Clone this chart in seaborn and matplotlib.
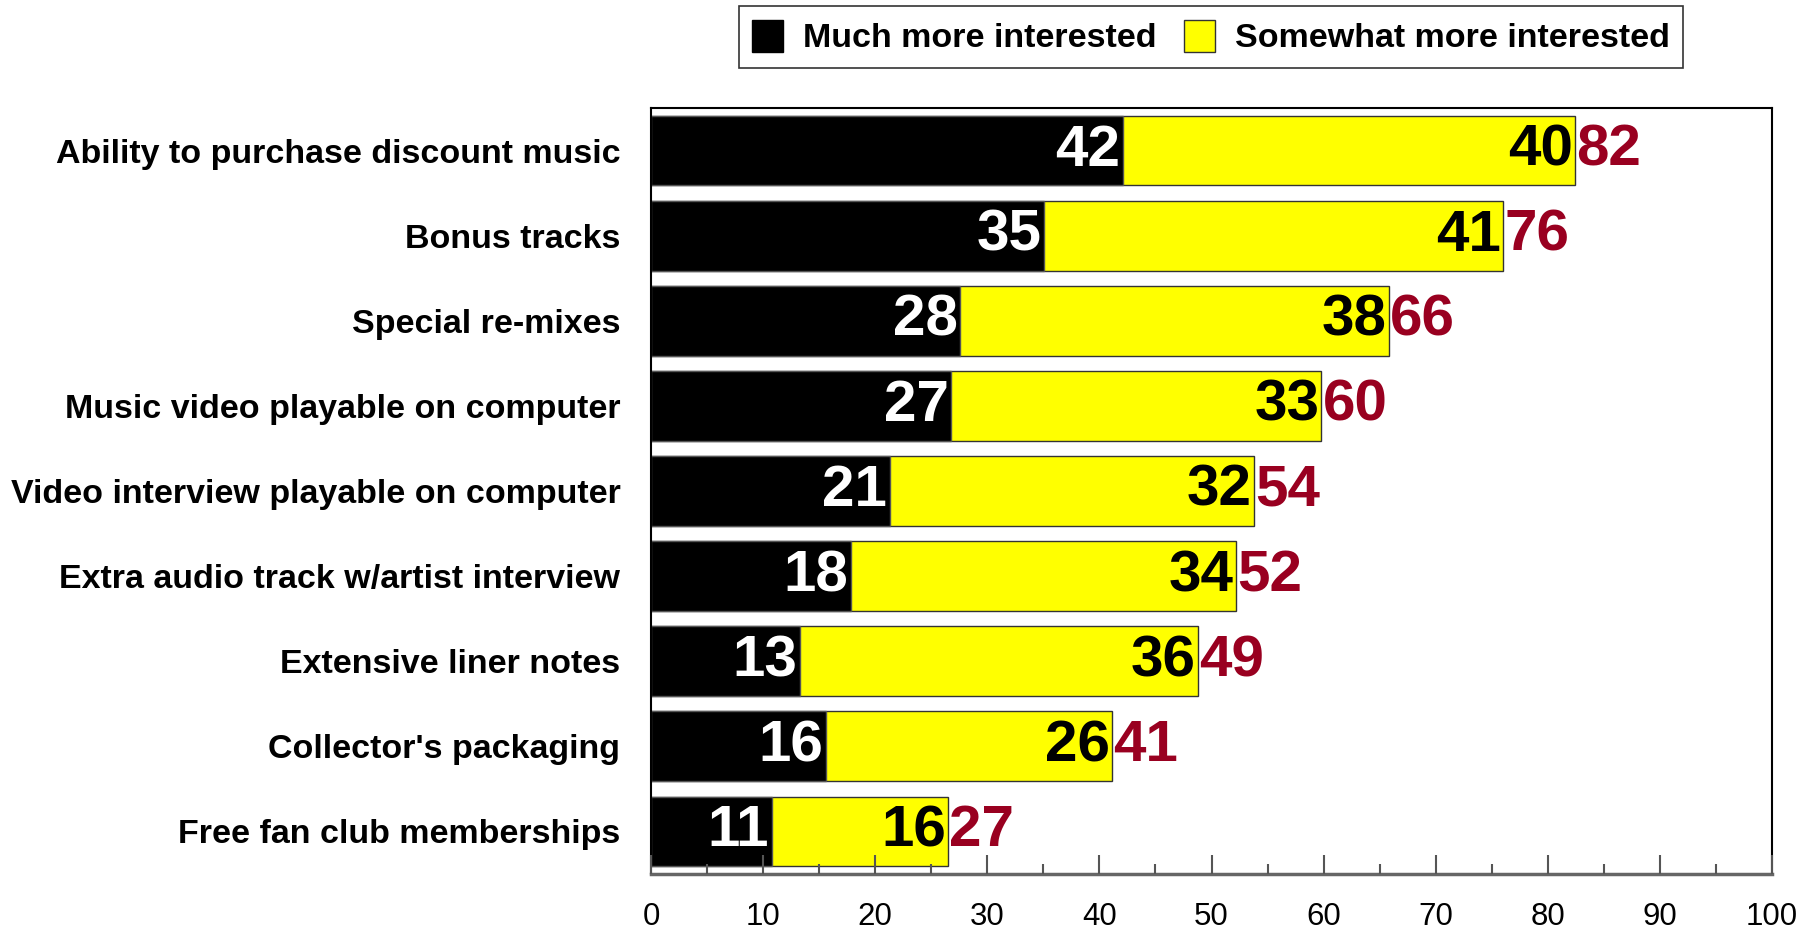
import numpy as np
import pandas as pd
import matplotlib
matplotlib.use("Agg")
import matplotlib.pyplot as plt
import seaborn as sns
from matplotlib.patches import Patch
from matplotlib.ticker import MultipleLocator

# datos
categories = [
    "Ability to purchase discount music",
    "Bonus tracks",
    "Special re-mixes",
    "Music video playable on computer",
    "Video interview playable on computer",
    "Extra audio track w/artist interview",
    "Extensive liner notes",
    "Collector's packaging",
    "Free fan club memberships",
]
much = [42.1, 35.1, 27.6, 26.8, 21.3, 17.8, 13.3, 15.6, 10.8]
somewhat = [40.3, 40.9, 38.2, 33.0, 32.5, 34.4, 35.5, 25.5, 15.7]
much_labels = [42, 35, 28, 27, 21, 18, 13, 16, 11]
somewhat_labels = [40, 41, 38, 33, 32, 34, 36, 26, 16]
total_labels = [82, 76, 66, 60, 54, 52, 49, 41, 27]
x_ticks = [0, 10, 20, 30, 40, 50, 60, 70, 80, 90, 100]

df = pd.DataFrame({"cat": categories, "much": much, "somewhat": somewhat})
df["total"] = df["much"] + df["somewhat"]

sns.set_style("white")
plt.rcParams["font.family"] = ["Liberation Sans", "DejaVu Sans"]
plt.rcParams["text.color"] = "black"
plt.rcParams["xtick.labelcolor"] = "black"
plt.rcParams["ytick.labelcolor"] = "black"

fig = plt.figure(figsize=(18.12, 9.39), dpi=100)
ax = fig.add_axes([651 / 1812, 1 - 874 / 939, (1772 - 651) / 1812, (874 - 108) / 939])

# barras apiladas: total amarillo y encima la parte negra
sns.barplot(data=df, x="total", y="cat", orient="h", color="#FFFF00", saturation=1,
            edgecolor="#333333", linewidth=1, width=0.82, ax=ax)
sns.barplot(data=df, x="much", y="cat", orient="h", color="black", saturation=1,
            edgecolor="#555555", linewidth=1, width=0.82, ax=ax)

ax.set_xlim(0, 100)
ax.set_ylim(8.5, -0.5)
ax.set_xlabel("")
ax.set_ylabel("")

# etiquetas de valores
fs_val = 42
for i, row in df.iterrows():
    ax.annotate(str(much_labels[i]), (row["much"], i), xytext=(-2, 0), textcoords="offset points",
                ha="right", va="center", color="white", fontsize=fs_val, fontweight="bold")
    ax.annotate(str(somewhat_labels[i]), (row["total"], i), xytext=(-1.5, 0), textcoords="offset points",
                ha="right", va="center", color="black", fontsize=fs_val, fontweight="bold")
    ax.annotate(str(total_labels[i]), (row["total"], i), xytext=(1, 0), textcoords="offset points",
                ha="left", va="center", color="#990020", fontsize=fs_val, fontweight="bold")

# ejes
ax.set_xticks(x_ticks)
ax.set_xticklabels([str(t) for t in x_ticks], fontsize=22.5, color="black")
ax.xaxis.set_minor_locator(MultipleLocator(5))
ax.tick_params(axis="x", which="major", direction="in", length=14, width=1.5, color="#555555", pad=20, bottom=True)
ax.tick_params(axis="x", which="minor", direction="in", length=7, width=1.5, color="#555555", bottom=True)
ax.tick_params(axis="y", length=0, pad=22)
for lab in ax.get_yticklabels():
    lab.set_fontsize(24.5)
    lab.set_fontweight("bold")
    lab.set_color("black")
ax.set_axisbelow(False)

for side in ["top", "right", "left"]:
    ax.spines[side].set_visible(True)
    ax.spines[side].set_color("black")
    ax.spines[side].set_linewidth(1.5)
ax.spines["bottom"].set_color("#666666")
ax.spines["bottom"].set_linewidth(2.5)

# leyenda
handles = [Patch(facecolor="black", edgecolor="black", label="Much more interested"),
           Patch(facecolor="#FFFF00", edgecolor="#333333", label="Somewhat more interested")]
leg = fig.legend(handles=handles, loc="center", bbox_to_anchor=(1211 / 1812, 1 - 37 / 939), ncol=2,
                 frameon=True, fancybox=False, edgecolor="#333333", framealpha=1,
                 prop={"size": 24.5, "weight": "bold"}, handlelength=0.9, handleheight=1.1,
                 handletextpad=0.6, columnspacing=0.8, borderpad=0.4)
leg.get_frame().set_linewidth(1.2)

fig.savefig("out.png", dpi=100)
